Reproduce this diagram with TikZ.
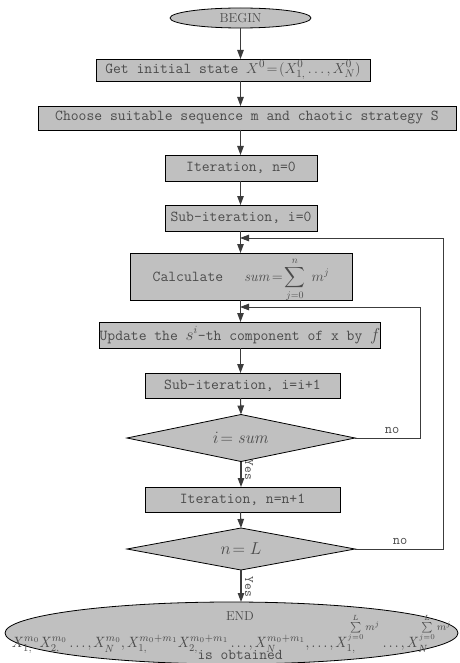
\documentclass[tikz,border=0pt]{standalone}
\usepackage{amsmath}
\usepackage{graphicx}
\usetikzlibrary{shapes.geometric,arrows.meta}
\definecolor{boxgray}{RGB}{192,192,192}
\definecolor{txtgray}{RGB}{75,75,75}
\definecolor{linegray}{RGB}{60,60,60}
\begin{document}
\begin{tikzpicture}[x=1pt,y=-1pt,
  every node/.style={inner sep=0pt,outer sep=0pt},
  fbox/.style={draw=black,fill=boxgray,line width=0.8pt,text=txtgray,
    font=\ttfamily\fontsize{15.2}{17}\selectfont,rectangle},
  fdia/.style={draw=black,fill=boxgray,line width=0.8pt,text=txtgray,diamond,aspect=4.8},
  fell/.style={draw=black,fill=boxgray,line width=0.8pt,text=txtgray,ellipse},
  flow/.style={draw=linegray,line width=1.1pt,-{Triangle[length=9pt,width=6.5pt]}},
  loopline/.style={draw=linegray,line width=0.8pt,-{Triangle[length=9pt,width=6.5pt]}},
  lbl/.style={text=txtgray,font=\ttfamily\fontsize{14}{16}\selectfont}]
\useasboundingbox (0,0) rectangle (459,663);
\fill[white] (0,0) rectangle (459,663);

\node[fell,minimum width=141pt,minimum height=20pt,font=\rmfamily\fontsize{13}{15}\selectfont] (begin) at (240.5,18) {BEGIN};
\node[fbox,minimum width=274pt,minimum height=22pt] (init) at (233,70)
  {Get initial state $X^0\!=\!(X^0_{1,}\dots,X^0_N)$};
\node[fbox,minimum width=418pt,minimum height=24pt] (choose) at (247,118)
  {Choose suitable sequence m and chaotic strategy S};
\node[fbox,minimum width=152pt,minimum height=26pt] (iter0) at (241,168) {Iteration, n=0};
\node[fbox,minimum width=152pt,minimum height=26pt] (sub0) at (241,218) {Sub-iteration, i=0};
\node[fbox,minimum width=222pt,minimum height=47pt] (calc) at (241,276.5)
  {Calculate\hspace{1.4em}\smash{\fontsize{14}{16}\selectfont$\mathit{sum}\!=\!\displaystyle\sum_{j=0}^{n}\;m^{j}$}};
\node[fbox,minimum width=266pt,minimum height=26pt] (update) at (240,335)
  {Update the {\fontsize{16}{18}\selectfont$s^{i}$}-th component of x by {\fontsize{16}{18}\selectfont$f$}};
\node[fbox,minimum width=195pt,minimum height=25pt] (subinc) at (242.5,385.5) {Sub-iteration, i=i+1};
\node[fdia,minimum width=228pt,minimum height=47pt,font=\fontsize{16}{18}\selectfont] (dia1) at (241,438) {$i\!=\mathit{sum}$};
\node[fbox,minimum width=195pt,minimum height=25pt] (iter1) at (242.5,499.5) {Iteration, n=n+1};
\node[fdia,minimum width=228pt,minimum height=42pt,font=\fontsize{16}{18}\selectfont] (dia2) at (241,549) {$n\!=L$};
\node[fell,minimum width=453pt,minimum height=62pt] (end) at (231.5,633) {};
\node[text=txtgray,font=\rmfamily\fontsize{13}{15}\selectfont] (endt) at (240,616) {END};
\node[text=txtgray] (formula) at (232,634) {\resizebox{440pt}{34pt}{$X^{m_0}_{1,}X^{m_0}_{2,}\dots,X^{m_0}_{N},X^{m_0+m_1}_{1,}X^{m_0+m_1}_{2,}\dots,X^{m_0+m_1}_{N},\dots,X_{1,}^{\sum\limits_{j=0}^{L}m^j}\dots,X_{N}^{\sum\limits_{j=0}^{L}m^j}$}};
\node[lbl,font=\ttfamily\fontsize{15}{17}\selectfont] (obt) at (240,655) {is obtained};

\coordinate (j1) at (240,238);
\coordinate (j2) at (240,307);

\draw[flow] (begin.south) -- (begin.south |- init.north);
\draw[flow] (init.south -| begin) -- (begin |- choose.north);
\draw[flow] (choose.south -| begin) -- (begin |- iter0.north);
\draw[flow] (iter0.south -| begin) -- (begin |- sub0.north);
\draw[flow] (sub0.south -| begin) -- (begin |- calc.north);
\draw[flow] (calc.south -| begin) -- (begin |- update.north);
\draw[flow] (update.south -| begin) -- (begin |- subinc.north);
\draw[flow] (subinc.south -| begin) -- (dia1.north);
\draw[flow] (dia1.south) -- (dia1.south |- iter1.north);
\draw[flow] (iter1.south -| begin) -- (dia2.north);
\draw[flow] (dia2.south) -- (dia2.south |- end.north);

\draw[loopline] (dia1.east) -- (420,438) |- (j2);
\draw[loopline] (dia2.east) -- (443,549) |- (j1);

\node[lbl] (no1) at (392,430) {no};
\node[lbl] (no2) at (400,541) {no};
\node[lbl,rotate=-90,font=\ttfamily\fontsize{13}{15}\selectfont] (yes1) at (249,470) {Yes};
\node[lbl,rotate=-90,font=\ttfamily\fontsize{13}{15}\selectfont] (yes2) at (249,587) {Yes};
\end{tikzpicture}
\end{document}
